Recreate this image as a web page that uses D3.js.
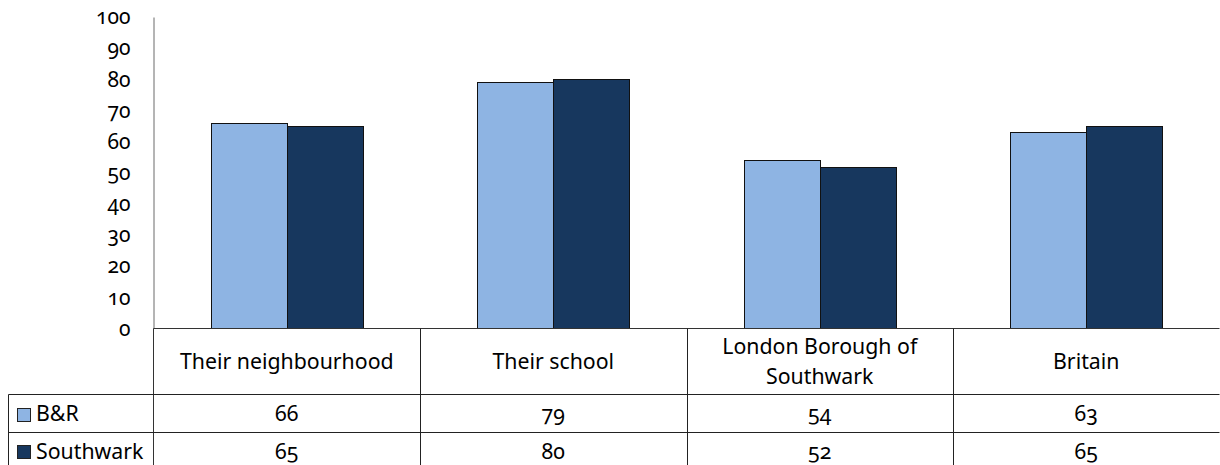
<!DOCTYPE html>
<html><head><meta charset="utf-8">
<script src="https://cdn.jsdelivr.net/npm/d3@7"></script>
<style>
body{margin:0;background:#fff;}
svg text{font-family:"Noto Sans","Open Sans",sans-serif;font-variant-numeric:oldstyle-nums;font-feature-settings:"onum" 1;fill:#000;}
</style></head>
<body><svg id="c" width="1220" height="465"></svg>
<script>
const categories = ["Their neighbourhood", "Their school", "London Borough of\nSouthwark", "Britain"];
const seriesNames = ["B&R", "Southwark"];
const brValues = [66, 79, 54, 63];
const southwarkValues = [65, 80, 52, 65];
const yTicks = [0, 10, 20, 30, 40, 50, 60, 70, 80, 90, 100];
const colors = ["#8EB4E3", "#17375E"];
const series = [brValues, southwarkValues];

(function () {
const svg = d3.select("#c");
const left = 153.5, right = 1219.5, plotTop = 17, zeroY = 328.5;
const headerBottom = 394.5, row1Bottom = 432.5, row2Bottom = 471, tableLeft = 8.5;
const fs = 21.3, afs = 21;

const y = d3.scaleLinear().domain([0, 100]).range([zeroY, plotTop]);
const x0 = d3.scaleBand().domain(categories).range([left, right]);
const x1 = d3.scaleBand().domain(seriesNames).range([0, x0.bandwidth()]).paddingOuter(0.753);

// bars
seriesNames.forEach((s, si) => {
  svg.append("g").selectAll("rect").data(categories).join("rect")
    .attr("x", c => Math.round(x0(c) + x1(s)) + 0.5)
    .attr("y", (c, i) => Math.round(y(series[si][i])) + 0.5)
    .attr("width", Math.round(x1.bandwidth()))
    .attr("height", (c, i) => zeroY - Math.round(y(series[si][i])) - 0.5)
    .attr("fill", colors[si])
    .attr("stroke", "#111")
    .attr("stroke-width", 1);
});

// y axis
const yAxis = d3.axisLeft(y).tickValues(yTicks).tickSize(0).tickPadding(23);
const ga = svg.append("g").attr("transform", `translate(${left},0)`).call(yAxis);
ga.select(".domain").attr("stroke", "#6b6b6b");
ga.selectAll("text").attr("font-size", afs).attr("font-family", null).attr("fill", "#000");

// table lines
const lineCol = "#222";
function line(xa, ya, xb, yb, col) {
  svg.append("line").attr("x1", xa).attr("y1", ya).attr("x2", xb).attr("y2", yb)
    .attr("stroke", col || lineCol).attr("stroke-width", 1);
}
line(left, zeroY, right, zeroY, "#333");
line(left, zeroY, left, row2Bottom, "#333");
line(tableLeft, headerBottom, right, headerBottom);
line(tableLeft, row1Bottom, right, row1Bottom);
line(tableLeft, headerBottom, tableLeft, row2Bottom);
categories.forEach(c => {
  const xr = Math.round(x0(c) + x0.bandwidth()) + 0.5;
  line(xr, zeroY, xr, row2Bottom);
});

// header labels
categories.forEach(c => {
  const lines = c.split("\n");
  const cx = x0(c) + x0.bandwidth() / 2;
  const cy = (zeroY + headerBottom) / 2;
  const lh = 30;
  const t = svg.append("text").attr("text-anchor", "middle").attr("font-size", fs);
  lines.forEach((l, i) => {
    t.append("tspan").attr("x", cx)
      .attr("y", cy + (i - (lines.length - 1) / 2) * lh)
      .attr("dy", "0.35em").text(l);
  });
});

// value rows
const rowMids = [(headerBottom + row1Bottom) / 2, (row1Bottom + row2Bottom) / 2 - 0.5];
seriesNames.forEach((s, si) => {
  const ry = rowMids[si];
  svg.append("rect").attr("x", 17.5).attr("y", Math.round(ry - 6) + 0.5)
    .attr("width", 13).attr("height", 13)
    .attr("fill", colors[si]).attr("stroke", "#222");
  svg.append("text").attr("x", 36).attr("y", ry).attr("dy", "0.35em")
    .attr("font-size", fs).text(s);
  categories.forEach((c, i) => {
    svg.append("text").attr("x", x0(c) + x0.bandwidth() / 2).attr("y", ry)
      .attr("dy", "0.35em").attr("text-anchor", "middle").attr("font-size", fs)
      .text(series[si][i]);
  });
});
})();
</script></body></html>
